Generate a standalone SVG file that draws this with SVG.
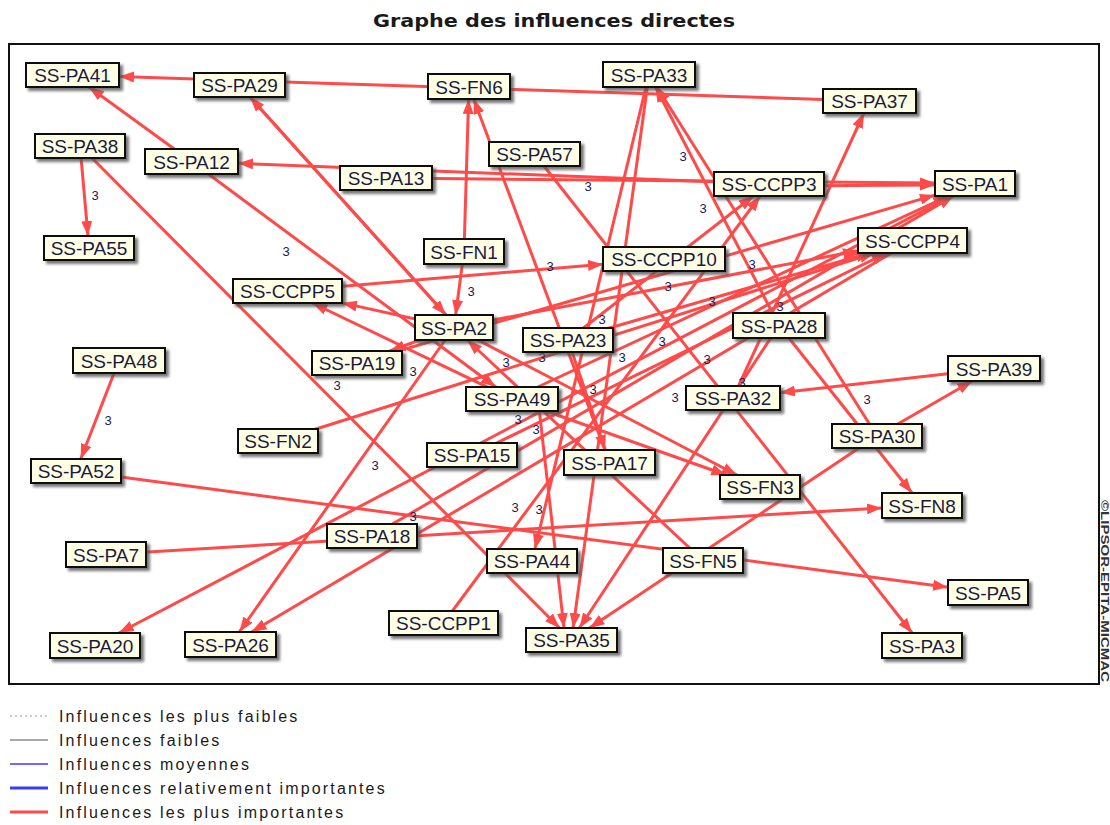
<svg xmlns="http://www.w3.org/2000/svg" width="1110" height="825" viewBox="0 0 1110 825">
<style>
.t{font-family:"Liberation Sans",Arial,sans-serif;font-size:19px;fill:#1a1a40;text-anchor:middle}
.b{fill:#ffffe6;stroke:#111;stroke-width:2;filter:url(#sh)}
.e{stroke:#ff4a4a;stroke-width:3;fill:none;marker-end:url(#ah)}
.l{font-family:"Liberation Sans",Arial,sans-serif;font-size:13px;fill:#1a1a50;text-anchor:middle}
.g{font-family:"Liberation Sans",Arial,sans-serif;font-size:16px;fill:#1a1a1a;letter-spacing:2.15px}
</style>
<defs>
<filter id="sh" x="-10%" y="-20%" width="130%" height="160%"><feDropShadow dx="3" dy="3" stdDeviation="1.5" flood-color="#555" flood-opacity="0.8"/></filter>
<marker id="ah" markerUnits="userSpaceOnUse" markerWidth="15" markerHeight="11" refX="15" refY="5.5" orient="auto"><path d="M0,0 L15,5.5 L0,11 z" fill="#ff4a4a"/></marker>
</defs>
<rect width="1110" height="825" fill="#fff"/>
<text x="554" y="27" font-family="DejaVu Sans,Liberation Sans,sans-serif" font-size="18" font-weight="bold" text-anchor="middle" fill="#1a1a1a" textLength="362" lengthAdjust="spacingAndGlyphs">Graphe des influences directes</text>
<rect x="9" y="44" width="1090" height="640" fill="none" stroke="#111" stroke-width="2"/>
<text transform="translate(1101,500) rotate(90)" font-family="Liberation Sans,Arial,sans-serif" font-size="11" font-weight="bold" fill="#333" textLength="182" lengthAdjust="spacingAndGlyphs">©LIPSOR-EPITA-MICMAC</text>
<g id="connectors">
<line class="e" x1="869.5" y1="101" x2="119" y2="76.5"/>
<line class="e" x1="191.5" y1="161.5" x2="89" y2="87"/>
<line class="e" x1="769" y1="184" x2="238" y2="163.3"/>
<line class="e" x1="446" y1="315" x2="250" y2="97"/>
<line class="e" x1="250" y1="97" x2="446" y2="315"/>
<line class="e" x1="80" y1="146" x2="88" y2="236"/>
<line class="e" x1="80" y1="146" x2="559.6" y2="628"/>
<line class="e" x1="464" y1="251.5" x2="468.6" y2="99"/>
<line class="e" x1="609.5" y1="462.5" x2="473.7" y2="99"/>
<line class="e" x1="779" y1="325.5" x2="655.5" y2="87"/>
<line class="e" x1="877" y1="436" x2="656.9" y2="87"/>
<line class="e" x1="649" y1="74.5" x2="534.9" y2="549"/>
<line class="e" x1="649" y1="74.5" x2="573.1" y2="628"/>
<line class="e" x1="733" y1="398" x2="864" y2="113"/>
<line class="e" x1="386" y1="178" x2="935" y2="183.1"/>
<line class="e" x1="769" y1="186" x2="935" y2="185"/>
<line class="e" x1="287.5" y1="291" x2="603" y2="264.2"/>
<line class="e" x1="464" y1="251.5" x2="455.6" y2="315"/>
<line class="e" x1="512" y1="399" x2="312.4" y2="303"/>
<line class="e" x1="454" y1="327.5" x2="342" y2="302.9"/>
<line class="e" x1="454" y1="327.5" x2="389.8" y2="351"/>
<line class="e" x1="119" y1="360.5" x2="80.7" y2="459"/>
<line class="e" x1="994" y1="368.5" x2="780" y2="392.7"/>
<line class="e" x1="877" y1="436" x2="972.3" y2="381"/>
<line class="e" x1="779" y1="325.5" x2="912" y2="493"/>
<line class="e" x1="106" y1="554.5" x2="882" y2="507.9"/>
<line class="e" x1="76" y1="471" x2="948" y2="587.2"/>
<line class="e" x1="534.5" y1="154" x2="912.1" y2="633"/>
<line class="e" x1="877" y1="436" x2="589.5" y2="628"/>
<line class="e" x1="443.5" y1="623" x2="760.1" y2="196"/>
<line class="e" x1="568" y1="340" x2="753.5" y2="196"/>
<line class="e" x1="191.5" y1="161.5" x2="495.8" y2="387"/>
<line class="e" x1="278" y1="441" x2="874.5" y2="253"/>
<line class="e" x1="975" y1="183.5" x2="118.8" y2="633"/>
<line class="e" x1="912.5" y1="240.5" x2="251.6" y2="632"/>
<line class="e" x1="512" y1="399" x2="948.1" y2="196"/>
<line class="e" x1="472" y1="455" x2="886.8" y2="253"/>
<line class="e" x1="372" y1="536" x2="953.6" y2="196"/>
<line class="e" x1="703" y1="560.5" x2="467.3" y2="340"/>
<line class="e" x1="512" y1="399" x2="726.2" y2="475"/>
<line class="e" x1="454" y1="327.5" x2="737" y2="475"/>
<line class="e" x1="568" y1="340" x2="605.3" y2="450"/>
<line class="e" x1="454" y1="327.5" x2="239.3" y2="632"/>
<line class="e" x1="779" y1="325.5" x2="579.4" y2="628"/>
<line class="e" x1="568" y1="340" x2="871" y2="252.5"/>
<line class="e" x1="357" y1="363" x2="935" y2="195.1"/>
<line class="e" x1="454" y1="327.5" x2="858" y2="250.8"/>
<line class="e" x1="538" y1="399" x2="564" y2="628"/>
</g>
<g id="labels">
<text class="l" x="95" y="200">3</text>
<text class="l" x="286" y="256">3</text>
<text class="l" x="471" y="296">3</text>
<text class="l" x="550" y="271">3</text>
<text class="l" x="683" y="161">3</text>
<text class="l" x="588" y="191">3</text>
<text class="l" x="703" y="213">3</text>
<text class="l" x="752" y="269">3</text>
<text class="l" x="668" y="291">3</text>
<text class="l" x="712" y="306">3</text>
<text class="l" x="780" y="311">3</text>
<text class="l" x="602" y="324">3</text>
<text class="l" x="662" y="346">3</text>
<text class="l" x="622" y="362">3</text>
<text class="l" x="707" y="364">3</text>
<text class="l" x="593" y="394">3</text>
<text class="l" x="675" y="402">3</text>
<text class="l" x="742" y="387">3</text>
<text class="l" x="413" y="376">3</text>
<text class="l" x="337" y="390">3</text>
<text class="l" x="506" y="367">3</text>
<text class="l" x="542" y="362">3</text>
<text class="l" x="518" y="424">3</text>
<text class="l" x="536" y="434">3</text>
<text class="l" x="375" y="470">3</text>
<text class="l" x="515" y="512">3</text>
<text class="l" x="539" y="514">3</text>
<text class="l" x="413" y="521">3</text>
<text class="l" x="867" y="404">3</text>
<text class="l" x="108" y="425">3</text>
</g>
<g id="n-PA41"><rect class="b" x="26" y="63" width="93" height="24"/><text class="t" x="72.5" y="82">SS-PA41</text></g>
<g id="n-PA29"><rect class="b" x="194" y="73" width="91" height="24"/><text class="t" x="239.5" y="92">SS-PA29</text></g>
<g id="n-PA38"><rect class="b" x="35" y="134" width="90" height="24"/><text class="t" x="80" y="153">SS-PA38</text></g>
<g id="n-PA12"><rect class="b" x="145" y="149" width="93" height="25"/><text class="t" x="191.5" y="168.5">SS-PA12</text></g>
<g id="n-PA55"><rect class="b" x="44" y="236" width="90" height="24"/><text class="t" x="89" y="255">SS-PA55</text></g>
<g id="n-FN6"><rect class="b" x="428" y="74" width="82" height="25"/><text class="t" x="469" y="93.5">SS-FN6</text></g>
<g id="n-PA57"><rect class="b" x="489" y="142" width="91" height="24"/><text class="t" x="534.5" y="161">SS-PA57</text></g>
<g id="n-PA13"><rect class="b" x="340" y="166" width="92" height="24"/><text class="t" x="386" y="185">SS-PA13</text></g>
<g id="n-FN1"><rect class="b" x="424" y="239" width="80" height="25"/><text class="t" x="464" y="258.5">SS-FN1</text></g>
<g id="n-PA33"><rect class="b" x="603" y="62" width="92" height="25"/><text class="t" x="649" y="81.5">SS-PA33</text></g>
<g id="n-PA37"><rect class="b" x="823" y="89" width="93" height="24"/><text class="t" x="869.5" y="108">SS-PA37</text></g>
<g id="n-CCPP3"><rect class="b" x="714" y="172" width="110" height="24"/><text class="t" x="769" y="191">SS-CCPP3</text></g>
<g id="n-PA1"><rect class="b" x="935" y="171" width="80" height="25"/><text class="t" x="975" y="190.5">SS-PA1</text></g>
<g id="n-CCPP4"><rect class="b" x="858" y="228" width="109" height="25"/><text class="t" x="912.5" y="247.5">SS-CCPP4</text></g>
<g id="n-CCPP10"><rect class="b" x="603" y="247" width="122" height="24"/><text class="t" x="664" y="266">SS-CCPP10</text></g>
<g id="n-CCPP5"><rect class="b" x="233" y="279" width="109" height="24"/><text class="t" x="287.5" y="298">SS-CCPP5</text></g>
<g id="n-PA2"><rect class="b" x="415" y="315" width="78" height="25"/><text class="t" x="454" y="334.5">SS-PA2</text></g>
<g id="n-PA19"><rect class="b" x="312" y="351" width="90" height="24"/><text class="t" x="357" y="370">SS-PA19</text></g>
<g id="n-PA23"><rect class="b" x="523" y="328" width="90" height="24"/><text class="t" x="568" y="347">SS-PA23</text></g>
<g id="n-PA28"><rect class="b" x="733" y="313" width="92" height="25"/><text class="t" x="779" y="332.5">SS-PA28</text></g>
<g id="n-PA49"><rect class="b" x="466" y="387" width="92" height="24"/><text class="t" x="512" y="406">SS-PA49</text></g>
<g id="n-PA32"><rect class="b" x="686" y="386" width="94" height="24"/><text class="t" x="733" y="405">SS-PA32</text></g>
<g id="n-PA39"><rect class="b" x="948" y="356" width="92" height="25"/><text class="t" x="994" y="375.5">SS-PA39</text></g>
<g id="n-PA30"><rect class="b" x="832" y="424" width="90" height="24"/><text class="t" x="877" y="443">SS-PA30</text></g>
<g id="n-PA48"><rect class="b" x="73" y="348" width="92" height="25"/><text class="t" x="119" y="367.5">SS-PA48</text></g>
<g id="n-FN2"><rect class="b" x="238" y="429" width="80" height="24"/><text class="t" x="278" y="448">SS-FN2</text></g>
<g id="n-PA15"><rect class="b" x="427" y="443" width="90" height="24"/><text class="t" x="472" y="462">SS-PA15</text></g>
<g id="n-PA17"><rect class="b" x="564" y="450" width="91" height="25"/><text class="t" x="609.5" y="469.5">SS-PA17</text></g>
<g id="n-FN3"><rect class="b" x="720" y="475" width="80" height="24"/><text class="t" x="760" y="494">SS-FN3</text></g>
<g id="n-PA52"><rect class="b" x="31" y="459" width="90" height="24"/><text class="t" x="76" y="478">SS-PA52</text></g>
<g id="n-FN8"><rect class="b" x="882" y="493" width="80" height="25"/><text class="t" x="922" y="512.5">SS-FN8</text></g>
<g id="n-PA7"><rect class="b" x="66" y="542" width="80" height="25"/><text class="t" x="106" y="561.5">SS-PA7</text></g>
<g id="n-PA18"><rect class="b" x="327" y="524" width="90" height="24"/><text class="t" x="372" y="543">SS-PA18</text></g>
<g id="n-PA44"><rect class="b" x="487" y="549" width="90" height="24"/><text class="t" x="532" y="568">SS-PA44</text></g>
<g id="n-FN5"><rect class="b" x="663" y="548" width="80" height="25"/><text class="t" x="703" y="567.5">SS-FN5</text></g>
<g id="n-PA5"><rect class="b" x="948" y="580" width="80" height="25"/><text class="t" x="988" y="599.5">SS-PA5</text></g>
<g id="n-PA20"><rect class="b" x="50" y="633" width="90" height="25"/><text class="t" x="95" y="652.5">SS-PA20</text></g>
<g id="n-PA26"><rect class="b" x="185" y="632" width="91" height="25"/><text class="t" x="230.5" y="651.5">SS-PA26</text></g>
<g id="n-CCPP1"><rect class="b" x="389" y="611" width="109" height="24"/><text class="t" x="443.5" y="630">SS-CCPP1</text></g>
<g id="n-PA35"><rect class="b" x="526" y="628" width="91" height="24"/><text class="t" x="571.5" y="647">SS-PA35</text></g>
<g id="n-PA3"><rect class="b" x="882" y="633" width="80" height="25"/><text class="t" x="922" y="652.5">SS-PA3</text></g>
<g id="legend">
<line x1="10" y1="716" x2="48" y2="716" stroke="#999" stroke-width="1" stroke-dasharray="2,3"/>
<line x1="10" y1="740" x2="48" y2="740" stroke="#555" stroke-width="1.2"/>
<line x1="10" y1="764" x2="48" y2="764" stroke="#3a3aff" stroke-width="1.5"/>
<line x1="10" y1="788" x2="48" y2="788" stroke="#3a3aff" stroke-width="3"/>
<line x1="10" y1="812" x2="48" y2="812" stroke="#ff4a4a" stroke-width="3"/>
<text class="g" x="59" y="722">Influences les plus faibles</text>
<text class="g" x="59" y="746">Influences faibles</text>
<text class="g" x="59" y="770">Influences moyennes</text>
<text class="g" x="59" y="794">Influences relativement importantes</text>
<text class="g" x="59" y="818">Influences les plus importantes</text>
</g>
</svg>
